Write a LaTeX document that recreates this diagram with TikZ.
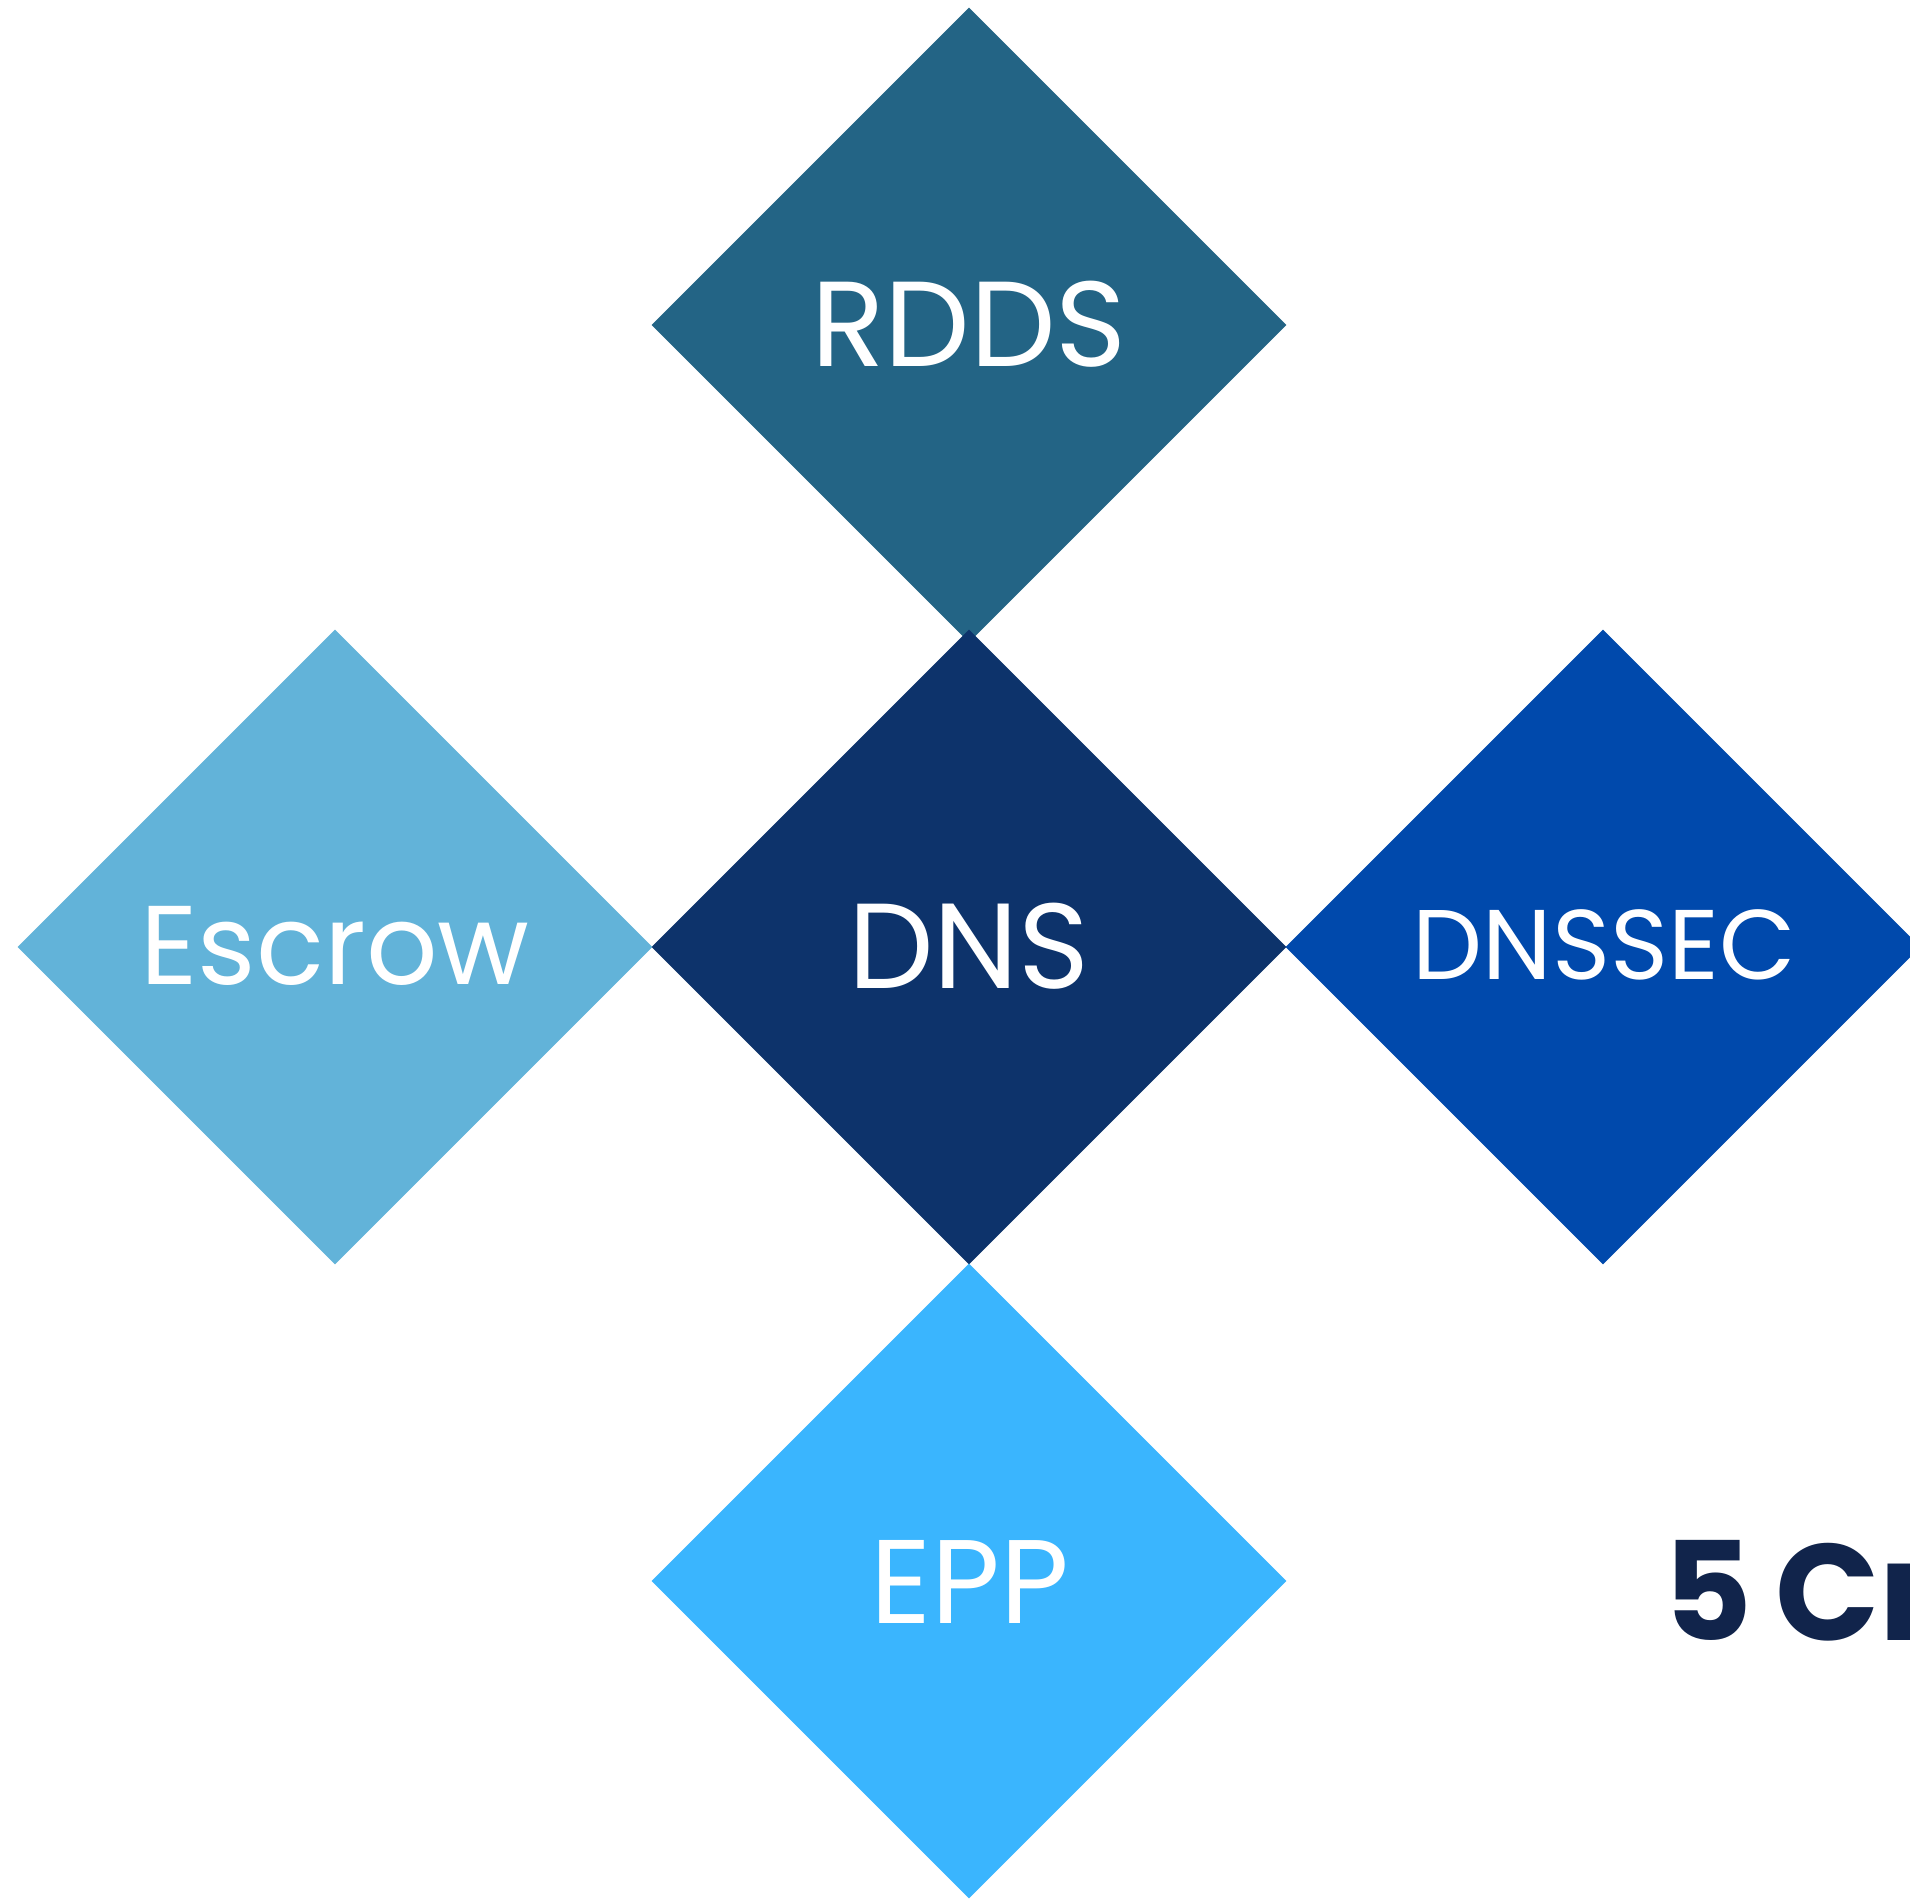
\documentclass[tikz,border=0pt]{standalone}
\usepackage{fontspec}
\setmainfont{Poppins}
\usetikzlibrary{shapes.geometric}
\definecolor{cRDDS}{HTML}{236485}
\definecolor{cDNS}{HTML}{0D336B}
\definecolor{cEscrow}{HTML}{62B3D9}
\definecolor{cDNSSEC}{HTML}{0049AC}
\definecolor{cEPP}{HTML}{3AB5FE}
\definecolor{cTitle}{HTML}{11244B}
\tikzset{
  dia/.style={diamond,aspect=1,inner sep=0pt,minimum width=635pt,minimum height=635pt,fill=#1,draw=none},
  lbl/.style={text=white,inner sep=0pt,font=\fontsize{#1}{#1}\selectfont},
}
\begin{document}
\begin{tikzpicture}[x=1pt,y=-1pt]
\useasboundingbox (0,0) rectangle (1910,1899);
\clip (0,0) rectangle (1910,1899);
\fill[white] (0,0) rectangle (1910,1899);
\node[dia=cRDDS] (rdds) at (969,325) {};
\node[dia=cDNS] (dns) at (969,947) {};
\node[dia=cEscrow] (escrow) at (335,947) {};
\node[dia=cDNSSEC] (dnssec) at (1603,947) {};
\node[dia=cEPP] (epp) at (969,1581) {};
\node[lbl=121] (trdds) at (969,324) {RDDS};
\node[lbl=121] (tdns) at (969,946) {DNS};
\node[lbl=112] (tescrow) at (335,946) {Escrow};
\node[lbl=99] (tdnssec) at (1604,945) {DNSSEC};
\node[lbl=119] (tepp) at (970,1582) {EPP};
\node[anchor=base west,inner sep=0pt,text=cTitle,font=\fontsize{137}{137}\selectfont\bfseries] (title) at (1663,1640) {5\hspace{0.17em}Cr};
\end{tikzpicture}
\end{document}
